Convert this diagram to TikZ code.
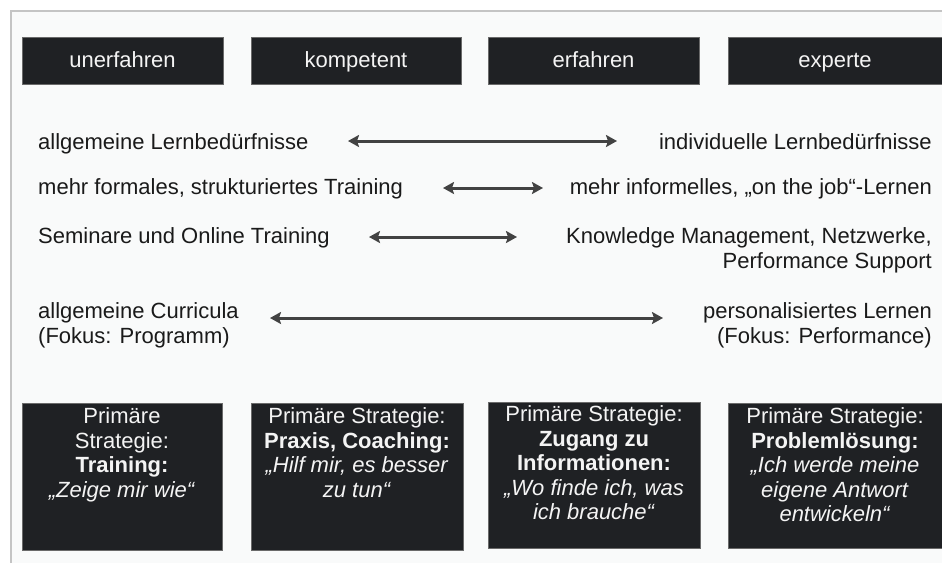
\documentclass[tikz,border=0pt]{standalone}
\usepackage{fontspec}
\setmainfont{Liberation Sans}
\usetikzlibrary{positioning,arrows.meta}
\definecolor{boxfill}{HTML}{1F2124}
\definecolor{boxline}{HTML}{6A6A6A}
\definecolor{boxtext}{HTML}{F4F4F4}
\definecolor{arrowgray}{HTML}{424242}
\definecolor{framegray}{HTML}{C4C4C4}
\definecolor{panel}{HTML}{F9FAFA}
\definecolor{rowtext}{HTML}{1A1A1A}

\begin{document}
\begin{tikzpicture}[x=1pt,y=-1pt]
			\tikzstyle{level} = [draw=boxline, fill=boxfill, text=boxtext, minimum height=47pt, inner sep=0pt, text height=17pt, text depth=4pt, font=\fontsize{22}{24.5}\selectfont]
			\tikzstyle{stratbox} = [draw=boxline, fill=boxfill, inner sep=0pt]
			\tikzstyle{strat} = [text=boxtext, align=center, inner sep=0pt, font=\fontsize{22}{24.5}\selectfont]
			\tikzstyle{row} = [text=rowtext, inner sep=0pt, font=\fontsize{22}{25}\selectfont]
			\tikzstyle{span} = [draw=arrowgray, line width=3pt, {Stealth[length=11pt,width=12pt,inset=2pt]}-{Stealth[length=11pt,width=12pt,inset=2pt]}]
			\useasboundingbox (0,0) rectangle (942,563);
			\fill[white] (0,0) rectangle (942,563);
			\fill[panel] (11,11) rectangle (942,563);
			\draw[framegray, line width=1.2pt] (11,563) -- (11,11) -- (942,11);
			
			\node[level, minimum width=201pt](t1) at (122.5,60.5){unerfahren};
			\node[level, minimum width=210pt](t2) at (356,60.5){kompetent};
			\node[level, minimum width=211pt](t3) at (593.5,60.5){erfahren};
			\node[level, minimum width=214pt](t4) at (835,60.5){experte};
			
			\node[row, anchor=base west](l1) at (38,149){allgemeine Lernbedürfnisse};
			\node[row, anchor=base east](r1) at (932,149){individuelle Lernbedürfnisse};
			\node[row, anchor=base west](l2) at (38,194){mehr formales, strukturiertes Training};
			\node[row, anchor=base east](r2) at (932,194){mehr informelles, „on the job“-Lernen};
			\node[row, anchor=base west](l3) at (38,243){Seminare und Online Training};
			\node[row, anchor=base east](r3) at (932,243){Knowledge Management, Netzwerke,};
			\node[row, anchor=base east](r3b) at (932,268){Performance Support};
			\node[row, anchor=base west](l4) at (38,318){allgemeine Curricula};
			\node[row, anchor=base west](l4b) at (38,343){(Fokus: Programm)};
			\node[row, anchor=base east](r4) at (932,318){personalisiertes Lernen};
			\node[row, anchor=base east](r4b) at (932,343){(Fokus: Performance)};
			
			\coordinate (a1) at (348,141);
			\coordinate (b1) at (617,141);
			\coordinate (a2) at (443,188);
			\coordinate (b2) at (543,188);
			\coordinate (a3) at (369,237);
			\coordinate (b3) at (517,237);
			\coordinate (a4) at (270,318);
			\coordinate (b4) at (663,318);
			\draw[span](a1) -- (b1);
			\draw[span](a2) -- (b2);
			\draw[span](a3) -- (b3);
			\draw[span](a4) -- (b4);
			
			\node[stratbox, minimum width=200pt, minimum height=147pt](p1) at (122,476.5){};
			\node[stratbox, minimum width=212pt, minimum height=147pt](p2) at (357,476.5){};
			\node[stratbox, minimum width=212pt, minimum height=146pt](p3) at (594,475){};
			\node[stratbox, minimum width=214pt, minimum height=145pt](p4) at (835,475.5){};
			\node[strat, below=5pt of p1.north](s1){Primäre\\Strategie:\\\textbf{Training:}\\\textit{„Zeige mir wie“}};
			\node[strat, below=5pt of p2.north](s2){Primäre Strategie:\\\textbf{Praxis, Coaching:}\\\textit{„Hilf mir, es besser}\\\textit{zu tun“}};
			\node[strat, below=4pt of p3.north](s3){Primäre Strategie:\\\textbf{Zugang zu}\\\textbf{Informationen:}\\\textit{„Wo finde ich, was}\\\textit{ich brauche“}};
			\node[strat, below=5pt of p4.north](s4){Primäre Strategie:\\\textbf{Problemlösung:}\\\textit{„Ich werde meine}\\\textit{eigene Antwort}\\\textit{entwickeln“}};
		\end{tikzpicture}
\end{document}
